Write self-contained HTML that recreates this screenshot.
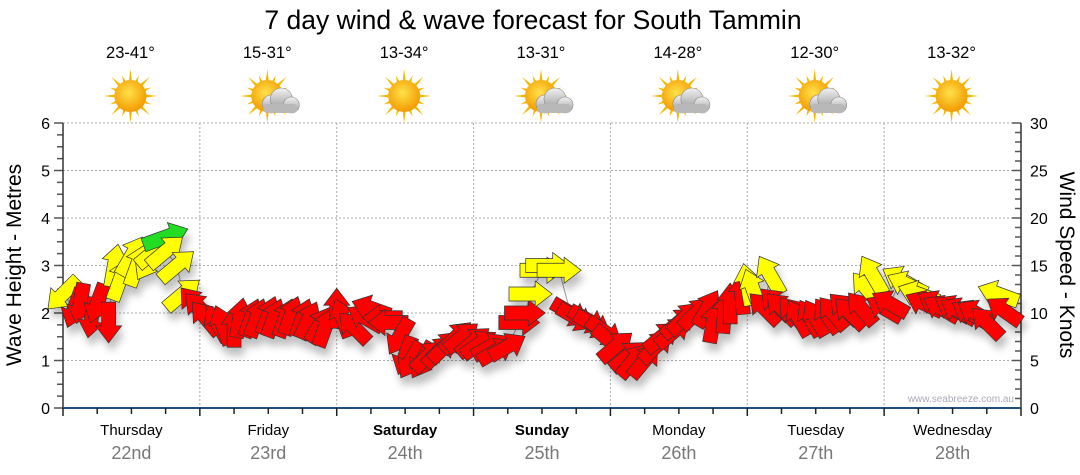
<!DOCTYPE html>
<html><head><meta charset="utf-8">
<style>
body{margin:0;background:#fff;}
svg{display:block;font-family:"Liberation Sans",sans-serif;}
</style></head>
<body>
<svg id="chart" width="1080" height="475" viewBox="0 0 1080 475" xmlns="http://www.w3.org/2000/svg">
<defs>
<filter id="sh" x="-50%" y="-50%" width="200%" height="200%"><feGaussianBlur in="SourceAlpha" stdDeviation="4"/><feOffset dx="3" dy="8"/><feComponentTransfer><feFuncA type="linear" slope="0.25"/></feComponentTransfer><feMerge><feMergeNode/><feMergeNode in="SourceGraphic"/></feMerge></filter>
<radialGradient id="sun" cx="45%" cy="40%" r="60%"><stop offset="0" stop-color="#ffe14a"/><stop offset="1" stop-color="#f39a00"/></radialGradient>
<linearGradient id="cl" x1="0" y1="0" x2="0" y2="1"><stop offset="0" stop-color="#f2f2f2"/><stop offset="1" stop-color="#9a9a9a"/></linearGradient>
</defs>
<text x="533" y="29" font-size="26.5" text-anchor="middle" fill="#000">7 day wind &amp; wave forecast for South Tammin</text>
<g id="grid"></g>
<g id="axes"></g>
<g id="icons"></g>
<g id="marks"></g>
<text transform="translate(21,265) rotate(-90)" font-size="21" text-anchor="middle">Wave Height - Metres</text>
<text transform="translate(1060,265) rotate(90)" font-size="21" text-anchor="middle">Wind Speed - Knots</text>
<text x="1014" y="402" font-size="10" text-anchor="end" fill="#aab">www.seabreeze.com.au</text>
</svg>
<script>
const days=["Thursday","Friday","Saturday","Sunday","Monday","Tuesday","Wednesday"];
const dates=["22nd","23rd","24th","25th","26th","27th","28th"];
const temps=["23-41°","15-31°","13-34°","13-31°","14-28°","12-30°","13-32°"];
const cloudy=[false,true,false,true,true,true,false];
const waveTicks=[0,1,2,3,4,5,6];
const windTicks=[0,5,10,15,20,25,30];
// arrows: hour offset, wave height (m), pointing angle (deg, screen), wind speed (knots)
const hours=[0,2,3,5,6,8,9,10,12,13,15,16,18,18,20,21,23,24,25,27,28,30,31,33,34,36,37,39,40,42,43,45,46,48,49,51,53,54,56,57,59,60,61,63,64,66,67,69,70,72,73,75,76,78,80,81,82,84,85,87,89,90,92,93,95,96,97,99,100,102,104,105,107,108,109,111,113,114,116,117,119,120,121,123,124,125,126,128,129,131,132,134,135,137,138,140,141,142,144,145,147,148,150,151,153,154,156,157,159,160,162,164,165];
const heights=[2.4,2.1,2.2,1.9,2.2,1.8,3.0,2.7,3.2,3.0,3.1,3.3,3.6,3.3,3.0,2.4,2.2,2.1,1.9,1.8,1.75,1.7,1.9,1.9,1.9,1.95,1.9,1.9,1.95,1.9,1.85,1.75,1.7,2.1,1.9,1.7,1.9,2.1,1.9,1.8,1.5,1.1,1.0,1.0,1.1,1.2,1.3,1.5,1.5,1.4,1.35,1.3,1.2,1.3,1.8,2.0,2.4,2.9,3.0,2.9,2.0,1.9,1.85,1.75,1.6,1.4,1.3,1.1,1.0,1.0,1.3,1.5,1.6,1.8,1.9,2.0,2.1,1.8,2.0,2.2,2.4,2.6,2.5,2.1,2.8,2.2,2.1,2.0,1.9,1.9,1.9,1.95,2.0,2.1,2.0,2.1,2.5,2.8,2.1,2.2,2.7,2.6,2.4,2.2,2.2,2.1,2.1,2.05,2.0,2.0,1.8,2.4,2.05];
const angles=[135,110,100,100,110,90,-80,-70,-60,-70,120,-40,-20,-40,-40,-40,-130,-135,-130,-120,-110,-90,-80,-70,-70,-70,-70,-70,-70,-70,-65,-60,-70,-90,-110,-135,-150,-160,180,180,120,110,120,120,-45,-45,-45,-45,-40,-40,-35,-30,-30,-30,0,0,0,0,0,0,30,30,30,30,35,40,-40,-40,-50,-50,-45,-40,-40,-40,-45,-45,-60,-80,-85,-90,-95,-100,-110,-135,-120,-135,-135,-130,-120,-120,-120,-125,-130,-135,-135,-130,-130,-120,-150,-150,-150,-155,-160,-155,-150,-150,-150,-150,-150,-150,-135,-160,-145];
const speeds=[14,12,12,12,12,12,15,15,16,15,15,15,20,16,15,15,12,12,12,12,12,11,11,11,11,11,11,11,11,11,11,11,11,11,11,11,11,11,11,11,11,11,11,11,11,11,11,11,11,11,11,11,11,11,12,12,15,16,16,16,12,12,12,12,12,12,12,12,12,12,12,12,12,12,12,12,12,12,12,12,12,14,14,12,15,12,12,11,11,11,11,11,11,11,11,11,14,15,11,11,14,14,14,11,11,11,11,11,11,11,11,14,11];

const NS="http://www.w3.org/2000/svg";
const X0=63,X1=1021,Y0=408,Y1=123;
const dayW=(X1-X0)/7;
const xH=h=>X0+h*dayW/24;
const yM=m=>Y0-(Y0-Y1)*m/6;
const yK=k=>Y0-(Y0-Y1)*k/30;
function mk(tag,attrs,parent){const e=document.createElementNS(NS,tag);for(const k in attrs)e.setAttribute(k,attrs[k]);parent.appendChild(e);return e;}
const grid=document.getElementById('grid'),axes=document.getElementById('axes'),icons=document.getElementById('icons'),marks=document.getElementById('marks');

waveTicks.forEach(m=>{
 if(m>0){const l=mk('line',{x1:X0,x2:X1,y1:yM(m),y2:yM(m),stroke:'#aaa','stroke-dasharray':'2,2'},grid);
 
 }
 const t=mk('text',{x:50,y:yM(m)+6,'font-size':16,'text-anchor':'end'},axes);t.textContent=m;
 
 
});
for(let i=0;i<=24;i++){const y=yM(i/4);mk('line',{x1:X0-(i%4?6:9),x2:X0,y1:y,y2:y,stroke:'#555','stroke-width':1.5},axes);}
windTicks.forEach(k=>{
 const t=mk('text',{x:1030,y:yK(k)+6,'font-size':16},axes);t.textContent=k;
 
 
});
for(let k=0;k<=30;k++){const y=yK(k);mk('line',{x1:X1-(k%5?6:9),x2:X1,y1:y,y2:y,stroke:'#555','stroke-width':1.5},axes);}
for(let d=1;d<7;d++){const x=X0+d*dayW;const l=mk('line',{x1:x,x2:x,y1:Y1,y2:Y0,stroke:'#aaa','stroke-dasharray':'2,2'},grid);
 
 }
mk('line',{x1:X0,x2:X0,y1:Y1,y2:Y0,stroke:'#333','stroke-width':1.5},axes);
mk('line',{x1:X1,x2:X1,y1:Y1,y2:Y0,stroke:'#333','stroke-width':1.5},axes);
mk('line',{x1:X0,x2:X1,y1:Y0,y2:Y0,stroke:'#1f4e79','stroke-width':2},axes);
for(let i=0;i<=28;i++){const x=X0+i*dayW/4;mk('line',{x1:x,x2:x,y1:Y0,y2:Y0+(i%4?6:8),stroke:'#222','stroke-width':1.5},axes);}

days.forEach((d,i)=>{
 const cx=X0+(i+.5)*dayW;
 const bold=(i==2||i==3);
 const t=mk('text',{x:cx,y:435,'font-size':15,'text-anchor':'middle','font-weight':bold?'bold':'normal'},axes);t.textContent=d;
 
 
 const t2=mk('text',{x:cx,y:459,'font-size':18,'text-anchor':'middle',fill:'#777'},axes);t2.textContent=dates[i];
 
 
 const t3=mk('text',{x:cx-1,y:58,'font-size':16.5,'text-anchor':'middle'},icons);t3.textContent=temps[i];
 
 
 const g=mk('g',{transform:`translate(${cx-1},96)`},icons);
 
 
 for(let r=0;r<16;r++){const a=r*Math.PI/8,L=r%2?22:27;
  mk('polygon',{points:`${Math.cos(a-0.12)*14},${Math.sin(a-0.12)*14} ${Math.cos(a)*L},${Math.sin(a)*L} ${Math.cos(a+0.12)*14},${Math.sin(a+0.12)*14}`,fill:'#f5b800'},g);}
 mk('circle',{cx:0,cy:0,r:16,fill:'url(#sun)'},g);
 if(cloudy[i]){
  const c=mk('g',{transform:'translate(10,6)'},g);
  mk('circle',{cx:-6,cy:2,r:9,fill:'url(#cl)',stroke:'#888','stroke-width':.6},c);
  mk('circle',{cx:4,cy:-3,r:11,fill:'url(#cl)',stroke:'#888','stroke-width':.6},c);
  mk('circle',{cx:14,cy:3,r:8,fill:'url(#cl)',stroke:'#888','stroke-width':.6},c);
  mk('rect',{x:-14,y:2,width:34,height:9,rx:4,fill:'#b8b8b8'},c);
 }
});

const pts=hours.map((h,i)=>`${xH(h)},${yM(heights[i])}`).join(' ');
const pl=mk('polyline',{points:pts,fill:'none',stroke:'#999','stroke-width':1},marks);


const ag=mk('g',{filter:'url(#sh)'},marks);
hours.forEach((h,i)=>{
 const s=speeds[i];
 const col=s>=18?'#22dd22':s>=14?'#ffff00':'#ff0000';
 const L=40+(s-11)*0.8, hw=13, sw=7, hl=17;
 const p=`${-L/2},${-sw} ${L/2-hl},${-sw} ${L/2-hl},${-hw} ${L/2},0 ${L/2-hl},${hw} ${L/2-hl},${sw} ${-L/2},${sw}`;
 const a=mk('polygon',{points:p,fill:col,stroke:'#333','stroke-width':0.7,transform:`translate(${xH(h)},${yM(heights[i])}) rotate(${angles[i]})`},ag);
 
 
});
</script>
</body></html>
